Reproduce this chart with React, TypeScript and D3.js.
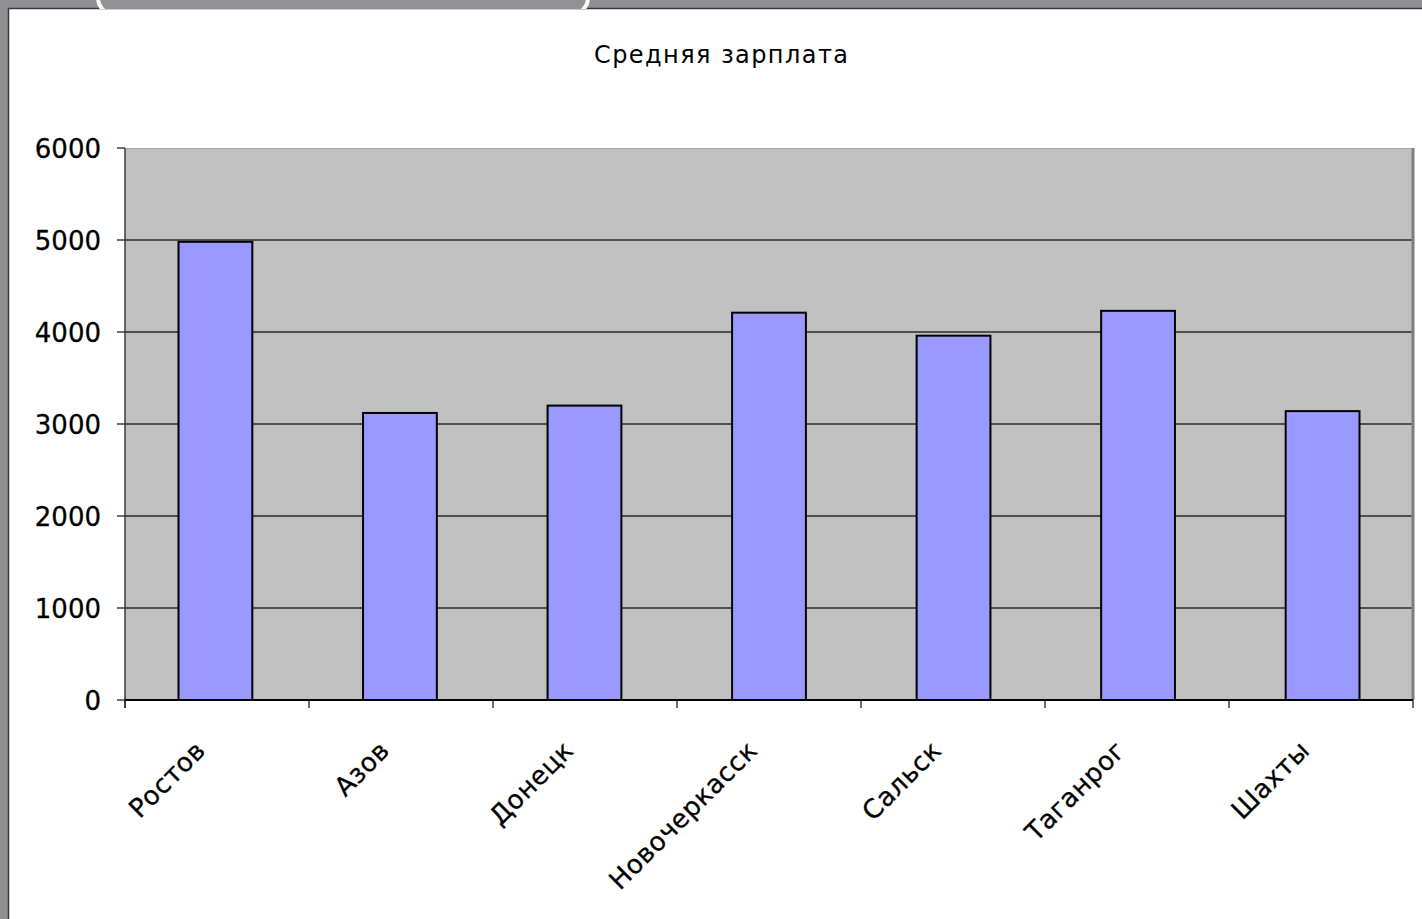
import React from "react";
import * as d3 from "d3";

const categories = ["Ростов", "Азов", "Донецк", "Новочеркасск", "Сальск", "Таганрог", "Шахты"];
const values = [4980, 3120, 3200, 4210, 3960, 4230, 3140];
const yTicks = [0, 1000, 2000, 3000, 4000, 5000, 6000];
const title = "Средняя зарплата";

const W = 1422;
const H = 919;
const plot = { left: 125, top: 148, right: 1413, bottom: 700 };
const FONT = "'DejaVu Sans', Verdana, sans-serif";

export default function App() {
  const x = d3.scaleBand<string>().domain(categories).range([plot.left, plot.right]).paddingInner(0.6).paddingOuter(0.29);
  const xb = d3.scaleBand<string>().domain(categories).range([plot.left, plot.right]);
  const y = d3.scaleLinear().domain([0, 6000]).range([plot.bottom, plot.top]);
  const boundaries = [...categories.map((c) => xb(c) as number), plot.right];

  return (
    <svg width={W} height={H} style={{ position: "absolute", left: 0, top: 0 }} fontFamily={FONT}>
      <rect x={0} y={0} width={W} height={H} fill="#ffffff" />
      {/* frame strips */}
      <rect x={0} y={0} width={W} height={8} fill="#8f8e90" />
      <rect x={0} y={0} width={8} height={H} fill="#8f8e90" />
      <defs>
        <clipPath id="topstrip">
          <rect x={0} y={0} width={W} height={9} />
        </clipPath>
      </defs>
      <line x1={8} x2={W} y1={8.5} y2={8.5} stroke="#3a3a3a" strokeWidth={1.5} />
      <line x1={8.5} x2={8.5} y1={8} y2={H} stroke="#3a3a3a" strokeWidth={1.5} />
      <rect x={98} y={-30} width={490} height={44} rx={16} fill="#929193" stroke="#fafafa" strokeWidth={4} clipPath="url(#topstrip)" />

      {/* title */}
      <text x={721} y={63} textAnchor="middle" fontSize={24} fill="#000" textLength={254} lengthAdjust="spacing">
        {title}
      </text>

      {/* plot area */}
      <rect x={plot.left} y={plot.top} width={plot.right - plot.left} height={plot.bottom - plot.top} fill="#c0c0c0" />
      <line x1={plot.left} x2={plot.right} y1={plot.top + 0.5} y2={plot.top + 0.5} stroke="#a8a8a8" strokeWidth={1} />
      <line x1={plot.right} x2={plot.right} y1={plot.top} y2={plot.bottom} stroke="#7f7f7f" strokeWidth={3} />

      {/* gridlines */}
      {yTicks.filter((t) => t > 0 && t < 6000).map((t) => (
        <line key={t} x1={plot.left} x2={plot.right - 1.5} y1={y(t)} y2={y(t)} stroke="#2a2a2a" strokeWidth={1.3} />
      ))}

      {/* bars */}
      {categories.map((c, i) => (
        <rect
          key={c}
          x={x(c)}
          y={y(values[i])}
          width={x.bandwidth()}
          height={plot.bottom - y(values[i])}
          fill="#9999ff"
          stroke="#000"
          strokeWidth={2}
        />
      ))}

      {/* axes */}
      <line x1={plot.left} x2={plot.left} y1={plot.top} y2={plot.bottom + 8} stroke="#3c3c3c" strokeWidth={1.5} />
      <line x1={plot.left} x2={plot.right} y1={plot.bottom} y2={plot.bottom} stroke="#000" strokeWidth={2} />
      {yTicks.map((t) => (
        <g key={t}>
          <line x1={plot.left - 8} x2={plot.left} y1={y(t)} y2={y(t)} stroke="#222" strokeWidth={1.3} />
          <text x={101} y={y(t) + 10} textAnchor="end" fontSize={26} fill="#000" stroke="#000" strokeWidth={0.3}>
            {t}
          </text>
        </g>
      ))}
      {boundaries.map((b, i) => (
        <line key={i} x1={b} x2={b} y1={plot.bottom} y2={plot.bottom + 8} stroke="#222" strokeWidth={1.3} />
      ))}
      {categories.map((c) => {
        const cx = (xb(c) as number) + xb.bandwidth() / 2 - 10;
        const cy = 752;
        return (
          <text key={c} x={cx} y={cy} textAnchor="end" fontSize={26} fill="#000" stroke="#000" strokeWidth={0.3} letterSpacing={0.5} transform={`rotate(-45, ${cx}, ${cy})`}>
            {c}
          </text>
        );
      })}
    </svg>
  );
}
